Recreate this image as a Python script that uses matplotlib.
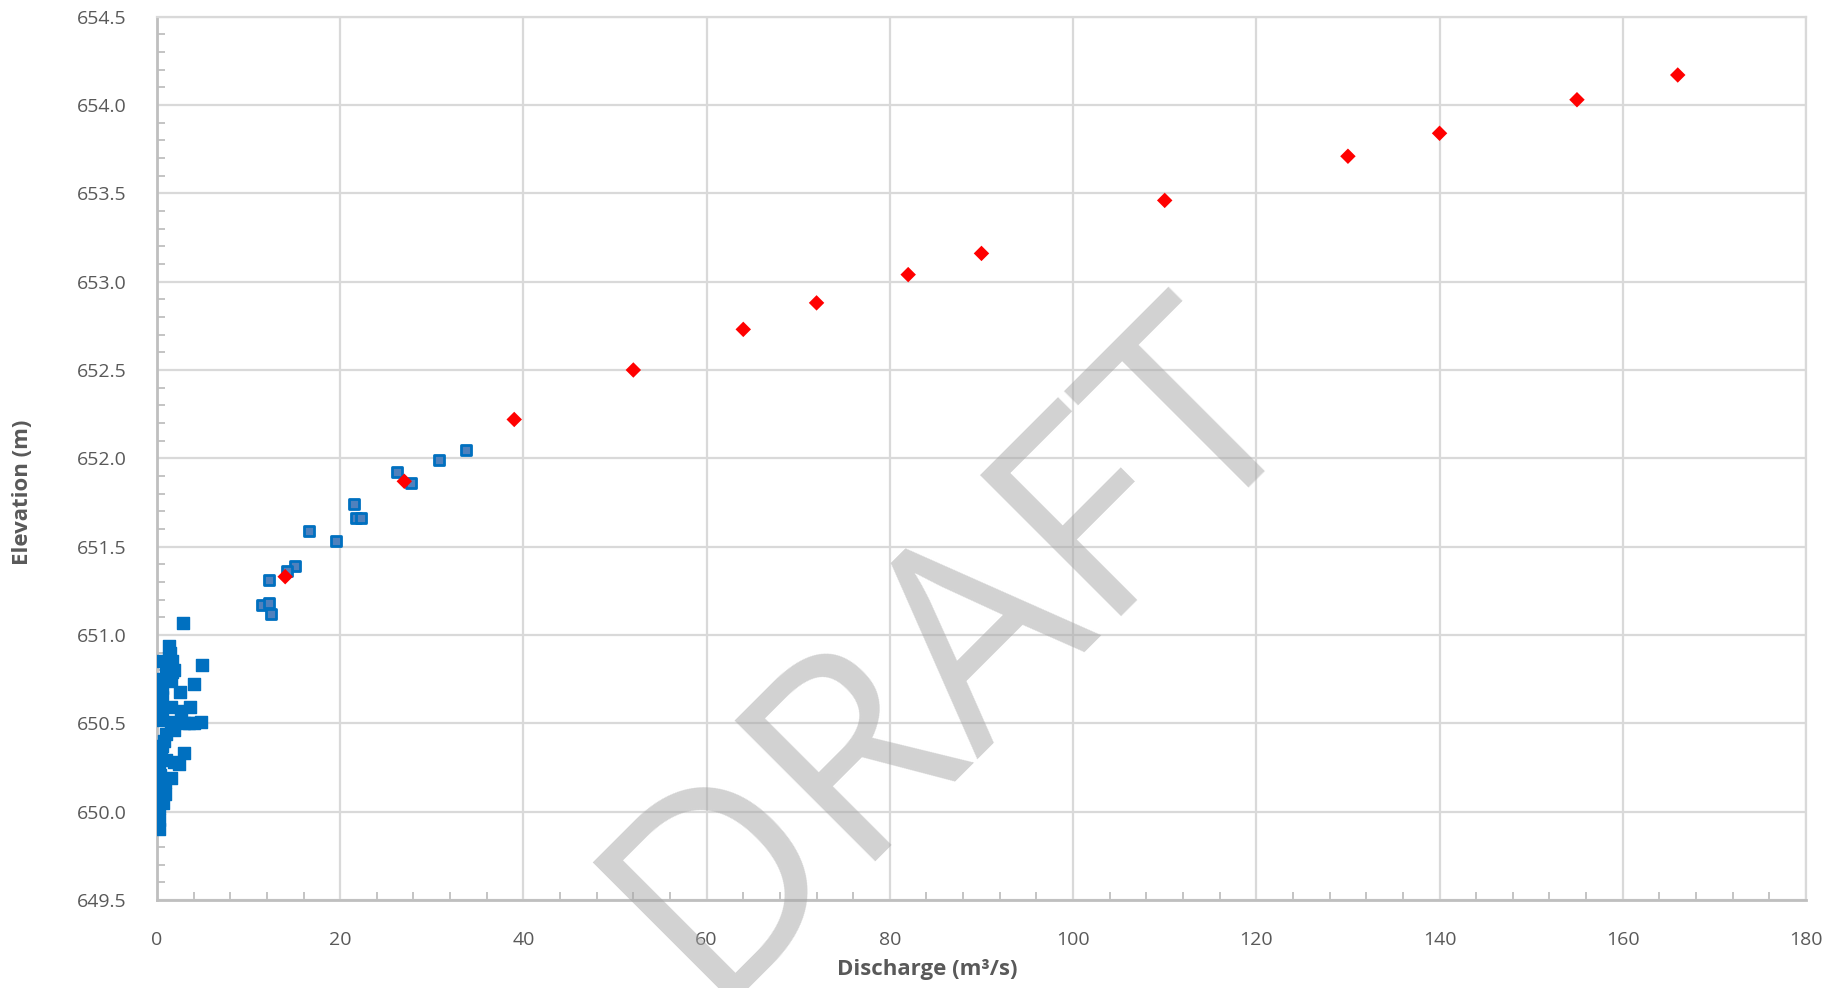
import matplotlib
matplotlib.use("Agg")
import matplotlib.pyplot as plt
from matplotlib.ticker import MultipleLocator, FormatStrFormatter

# observed gauge readings near the low-flow end (solid squares)
obs_low_q = [2.9, 1.35, 1.4, 1.3, 0.6, 1.7, 1.0, 1.9, 1.6, 4.9, 0.6, 1.5, 0.5, 4.0, 2.5,
             0.6, 0.4, 1.5, 2.6, 3.6, 0.5, 1.5, 3.0, 3.5, 4.1, 4.8, 1.9, 1.0, 0.8, 0.6,
             0.4, 0.1, 3.0, 1.0, 1.9, 2.4, 0.2, 0.3, 1.5, 0.9, 0.4, 0.2, 0.9, 0.3, 0.7,
             0.2, 0.1, 0.2, 0.1, 0.2]
obs_low_z = [651.07, 650.94, 650.90, 650.87, 650.85, 650.85, 650.82, 650.80, 650.79, 650.83,
             650.75, 650.74, 650.70, 650.72, 650.68, 650.65, 650.58, 650.59, 650.57, 650.59,
             650.52, 650.51, 650.50, 650.50, 650.50, 650.51, 650.46, 650.44, 650.40, 650.37,
             650.34, 650.32, 650.33, 650.29, 650.28, 650.27, 650.25, 650.21, 650.19, 650.17,
             650.15, 650.12, 650.10, 650.08, 650.05, 650.02, 649.98, 649.95, 649.92, 649.90]

# observed readings at higher flows (lighter squares)
obs_high_q = [33.7, 30.8, 26.2, 27.7, 21.5, 21.7, 22.3, 16.6, 19.5, 15.1, 14.2, 12.2, 11.5, 12.2, 12.4]
obs_high_z = [652.05, 651.99, 651.92, 651.86, 651.74, 651.66, 651.66, 651.59, 651.53, 651.39,
              651.36, 651.31, 651.17, 651.18, 651.12]

# modelled rating points (red diamonds)
model_q = [14, 27, 39, 52, 64, 72, 82, 90, 110, 130, 140, 155, 166]
model_z = [651.33, 651.87, 652.22, 652.50, 652.73, 652.88, 653.04, 653.16, 653.46,
           653.71, 653.84, 654.03, 654.17]

TXT = "#595959"
GRID = "#d9d9d9"
AXC = "#bfbfbf"

plt.rcParams['font.family'] = ['Open Sans', 'DejaVu Sans']

fig = plt.figure(figsize=(18.44, 9.88), dpi=100)
ax = fig.add_axes([0.0851, 0.0891, 0.8943, 0.894])

ax.scatter(obs_low_q, obs_low_z, marker='s', s=72, c='#0070c0', edgecolors='#0070c0',
           linewidths=1.0, zorder=3)
ax.scatter(obs_high_q, obs_high_z, marker='s', s=62, c='#4f81bd', edgecolors='#0070c0',
           linewidths=2.0, zorder=3)
ax.scatter(model_q, model_z, marker='D', s=62, c='#ff0000', edgecolors='none', zorder=4)

ax.set_xlim(0, 180)
ax.set_ylim(649.5, 654.5)
ax.xaxis.set_major_locator(MultipleLocator(20))
ax.xaxis.set_minor_locator(MultipleLocator(4))
ax.yaxis.set_major_locator(MultipleLocator(0.5))
ax.yaxis.set_minor_locator(MultipleLocator(0.1))
ax.yaxis.set_major_formatter(FormatStrFormatter('%.1f'))

ax.grid(True, which='major', color=GRID, linewidth=1.6, zorder=0)
ax.set_axisbelow(True)

for side in ['top', 'right']:
    ax.spines[side].set_color(GRID)
    ax.spines[side].set_linewidth(1.6)
for side in ['left', 'bottom']:
    ax.spines[side].set_color(AXC)
    ax.spines[side].set_linewidth(2.0)

ax.tick_params(which='both', direction='in', colors=AXC, labelcolor=TXT, labelsize=14)
ax.tick_params(which='major', length=0, pad=22)
ax.tick_params(which='minor', length=6, width=1.3)

ax.set_xlabel("Discharge (m³/s)", fontsize=16, fontweight='bold', color=TXT,
              va='center', ha='center')
ax.set_ylabel("Elevation (m)", fontsize=16, fontweight='bold', color=TXT,
              va='center', ha='center')
ax.xaxis.set_label_coords(0.467, -0.079)
ax.yaxis.set_label_coords(-0.0813, 0.462)

# watermark (runs off the bottom edge, as in the original)
fig.text(0.545, 0.288, "DRAFT", fontsize=200, color='#a6a6a6', alpha=0.5,
         rotation=45, rotation_mode='anchor', ha='center', va='baseline',
         fontweight='normal', zorder=10)

fig.savefig("out.png", dpi=100)
